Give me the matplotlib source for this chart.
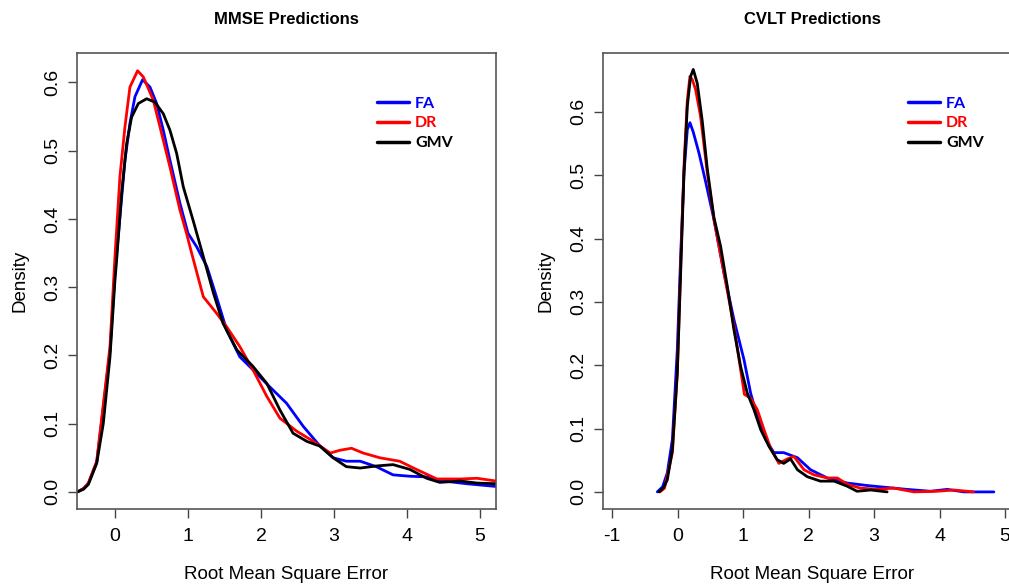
import matplotlib
matplotlib.use("Agg")
import matplotlib.pyplot as plt

# ---- data ----
mmse_fa_x = [-0.516, -0.43, -0.365, -0.25, -0.068, 0.0, 0.137, 0.205, 0.274, 0.379, 0.48, 0.571, 0.662, 0.753, 0.89, 1.0, 1.12, 1.26, 1.39, 1.53, 1.71, 1.89, 2.12, 2.35, 2.58, 2.81, 2.99, 3.17, 3.36, 3.58, 3.81, 4.04, 4.27, 4.5, 4.82, 5.22]
mmse_fa_y = [0.0, 0.005, 0.012, 0.043, 0.206, 0.32, 0.486, 0.54, 0.579, 0.604, 0.593, 0.569, 0.53, 0.486, 0.423, 0.379, 0.359, 0.33, 0.286, 0.237, 0.198, 0.179, 0.154, 0.130, 0.096, 0.067, 0.050, 0.045, 0.045, 0.037, 0.025, 0.023, 0.022, 0.016, 0.012, 0.008]

mmse_dr_x = [-0.516, -0.43, -0.365, -0.25, -0.068, 0.0, 0.068, 0.137, 0.205, 0.31, 0.388, 0.525, 0.616, 0.753, 0.89, 0.98, 1.05, 1.21, 1.39, 1.53, 1.71, 1.89, 2.08, 2.26, 2.49, 2.72, 2.95, 3.08, 3.24, 3.4, 3.63, 3.9, 4.13, 4.41, 4.73, 4.96, 5.22]
mmse_dr_y = [0.0, 0.005, 0.013, 0.045, 0.213, 0.345, 0.462, 0.535, 0.593, 0.617, 0.608, 0.574, 0.535, 0.476, 0.413, 0.379, 0.35, 0.286, 0.262, 0.242, 0.213, 0.179, 0.140, 0.108, 0.089, 0.074, 0.057, 0.061, 0.064, 0.057, 0.050, 0.045, 0.033, 0.019, 0.019, 0.020, 0.016]

mmse_gmv_x = [-0.516, -0.43, -0.365, -0.25, -0.16, -0.068, 0.0, 0.023, 0.091, 0.16, 0.228, 0.32, 0.434, 0.548, 0.662, 0.753, 0.845, 0.936, 1.07, 1.21, 1.35, 1.48, 1.67, 1.89, 2.08, 2.26, 2.44, 2.63, 2.81, 2.99, 3.17, 3.36, 3.58, 3.81, 4.04, 4.27, 4.45, 4.73, 4.96, 5.22]
mmse_gmv_y = [0.0, 0.004, 0.011, 0.042, 0.10, 0.198, 0.31, 0.34, 0.437, 0.51, 0.549, 0.569, 0.576, 0.571, 0.554, 0.53, 0.496, 0.447, 0.398, 0.345, 0.291, 0.247, 0.208, 0.184, 0.159, 0.120, 0.086, 0.074, 0.067, 0.050, 0.037, 0.035, 0.038, 0.040, 0.033, 0.020, 0.014, 0.016, 0.013, 0.012]

cvlt_fa_x = [-0.31, -0.23, -0.158, -0.08, -0.005, 0.046, 0.097, 0.148, 0.188, 0.239, 0.326, 0.427, 0.555, 0.707, 0.86, 1.013, 1.115, 1.216, 1.344, 1.47, 1.62, 1.83, 2.03, 2.285, 2.59, 2.9, 3.2, 3.5, 3.86, 4.12, 4.37, 4.83]
cvlt_fa_y = [0.0, 0.008, 0.030, 0.083, 0.225, 0.372, 0.504, 0.572, 0.583, 0.568, 0.535, 0.49, 0.43, 0.346, 0.272, 0.209, 0.156, 0.119, 0.083, 0.062, 0.062, 0.054, 0.035, 0.022, 0.014, 0.010, 0.007, 0.004, 0.001, 0.004, 0.0, 0.0]

cvlt_dr_x = [-0.27, -0.2, -0.08, -0.005, 0.046, 0.097, 0.148, 0.188, 0.224, 0.275, 0.35, 0.453, 0.555, 0.707, 0.86, 0.962, 1.02, 1.115, 1.216, 1.32, 1.42, 1.547, 1.674, 1.776, 1.93, 2.08, 2.285, 2.44, 2.59, 2.79, 3.05, 3.3, 3.61, 3.96, 4.22, 4.52]
cvlt_dr_y = [0.0, 0.006, 0.062, 0.188, 0.356, 0.514, 0.619, 0.656, 0.651, 0.635, 0.593, 0.504, 0.43, 0.346, 0.262, 0.193, 0.154, 0.148, 0.130, 0.098, 0.069, 0.045, 0.052, 0.056, 0.035, 0.027, 0.022, 0.022, 0.012, 0.006, 0.004, 0.006, 0.0, 0.001, 0.003, 0.0]

cvlt_gmv_x = [-0.285, -0.22, -0.158, -0.08, -0.005, 0.046, 0.097, 0.148, 0.198, 0.239, 0.30, 0.377, 0.453, 0.555, 0.656, 0.758, 0.86, 0.962, 1.064, 1.165, 1.27, 1.394, 1.52, 1.62, 1.725, 1.83, 1.98, 2.18, 2.39, 2.59, 2.74, 2.95, 3.2]
cvlt_gmv_y = [0.0, 0.006, 0.019, 0.067, 0.188, 0.346, 0.504, 0.609, 0.656, 0.667, 0.645, 0.585, 0.51, 0.433, 0.388, 0.325, 0.256, 0.198, 0.156, 0.130, 0.098, 0.072, 0.051, 0.045, 0.052, 0.035, 0.024, 0.017, 0.017, 0.009, 0.001, 0.003, 0.0]

series_names = ["FA", "DR", "GMV"]
series_colors = ["#0000ff", "#ff0000", "#000000"]
panel_titles = ["MMSE Predictions", "CVLT Predictions"]
x_label = "Root Mean Square Error"
y_label = "Density"
left_xticks = [0, 1, 2, 3, 4, 5]
right_xticks = [-1, 0, 1, 2, 3, 4, 5]
left_yticks = [0.0, 0.1, 0.2, 0.3, 0.4, 0.5, 0.6]
right_yticks = [0.0, 0.1, 0.2, 0.3, 0.4, 0.5, 0.6]

plt.rcParams['font.family'] = ['Liberation Sans', 'DejaVu Sans']

fig = plt.figure(figsize=(10.09, 5.84), dpi=100)
W, H = 1009.0, 584.0

def axes_px(x0, x1, ytop, ybot):
    return fig.add_axes([x0 / W, 1 - ybot / H, (x1 - x0) / W, (ybot - ytop) / H])

ax1 = axes_px(77, 496, 53, 509)
ax2 = axes_px(603, 1022, 53, 509)

panels = [
    (ax1, [(mmse_fa_x, mmse_fa_y), (mmse_dr_x, mmse_dr_y), (mmse_gmv_x, mmse_gmv_y)],
     (-0.52, 5.22), (-0.025, 0.643), left_xticks, left_yticks),
    (ax2, [(cvlt_fa_x, cvlt_fa_y), (cvlt_dr_x, cvlt_dr_y), (cvlt_gmv_x, cvlt_gmv_y)],
     (-1.14, 5.26), (-0.027, 0.693), right_xticks, right_yticks),
]

for i, (ax, data, xl, yl, xt, yt) in enumerate(panels):
    for (xs, ys), c, n in zip(data, series_colors, series_names):
        ax.plot(xs, ys, color=c, lw=2.0, label=n, solid_joinstyle='round', solid_capstyle='round')
    ax.set_xlim(*xl)
    ax.set_ylim(*yl)
    ax.set_xticks(xt)
    ax.set_yticks(yt)
    ax.set_xticklabels([str(v) for v in xt], fontsize=14)
    ax.set_yticklabels([f"{v:.1f}" for v in yt], fontsize=14, rotation=90, va='center')
    ax.tick_params(direction='out', length=6.5, width=1.0, color='#444444')
    ax.tick_params(axis='y', pad=5)
    ax.tick_params(axis='x', pad=7)
    for s in ax.spines.values():
        s.set_color('#555555')
        s.set_linewidth(1.2)
    ax.set_title(panel_titles[i], fontsize=12, fontweight='bold', pad=21)
    ax.set_xlabel(x_label, fontsize=13.5, labelpad=15)
    ax.set_ylabel(y_label, fontsize=13.5, labelpad=11)
    x0 = 77 if i == 0 else 603
    lx = 383 if i == 0 else 914
    leg = ax.legend(loc='upper left', bbox_to_anchor=((lx - x0) / 419.0 - 0.03, 1 - (90 - 53) / 456.0),
                    frameon=False, handlelength=2.0, handletextpad=0.4, labelspacing=0.35,
                    prop={'family': ['Lato', 'DejaVu Sans'], 'weight': 'bold', 'size': 11.5},
                    borderaxespad=0)
    for t, c in zip(leg.get_texts(), series_colors):
        t.set_color(c)
    for l in leg.get_lines():
        l.set_linewidth(2.5)

fig.savefig("out.png", dpi=100)
